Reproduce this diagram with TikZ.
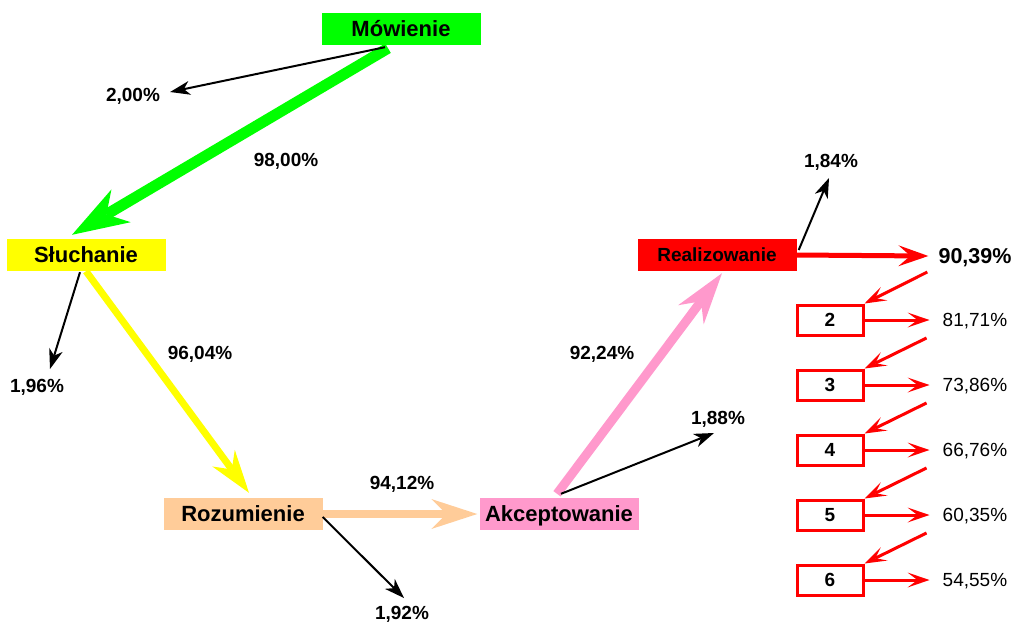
\documentclass[tikz,border=0pt]{standalone}
\usepackage{fontspec}
\setmainfont{Liberation Sans}
\usetikzlibrary{arrows.meta, positioning}
\definecolor{mowgreen}{RGB}{0, 255, 0}
\definecolor{sluyellow}{RGB}{255, 255, 0}
\definecolor{rozpeach}{RGB}{255, 204, 153}
\definecolor{akcpink}{RGB}{255, 153, 204}
\definecolor{realred}{RGB}{255, 0, 0}

\begin{document}
\begin{tikzpicture}[
    x=1pt, y=-1pt,
    box/.style={rectangle, minimum width=159pt, minimum height=32pt, inner sep=0pt, text height=15.8pt, text depth=0pt, font=\fontsize{22}{26}\selectfont\bfseries},
    stepbox/.style={rectangle, draw=realred, line width=3pt, minimum width=66pt, minimum height=30pt, inner sep=0pt, text height=13.6pt, text depth=0pt, font=\fontsize{19}{22}\selectfont\bfseries},
    pct/.style={inner sep=2pt, text height=13.6pt, text depth=0pt, font=\fontsize{19}{22}\selectfont\bfseries},
    rate/.style={inner sep=2pt, text height=13.6pt, text depth=0pt, font=\fontsize{19}{22}\selectfont},
    loss/.style={-{Stealth[length=20pt, width=14pt, inset=6pt, line width=0pt]}, line width=2pt},
    flow/.style={-{Stealth[length=46pt, width=30pt, inset=15pt, line width=0pt]}, line width=8pt},
    stepflow/.style={-{Stealth[length=22pt, width=15pt, inset=10pt, line width=0pt]}, line width=3pt, realred}
]
    \useasboundingbox (0,0) rectangle (1014,622);

    \node[box, fill=mowgreen]  (mow)  at (401,29)  {Mówienie};
    \node[box, fill=sluyellow] (slu)  at (86,255)  {Słuchanie};
    \node[box, fill=rozpeach]  (roz)  at (243,514) {Rozumienie};
    \node[box, fill=akcpink]   (akc)  at (559,514) {Akceptowanie};
    \node[box, fill=realred, text height=13.6pt, font=\fontsize{19}{22}\selectfont\bfseries] (real) at (717,255) {Realizowanie};

    \node[pct] (p200) at (133,95)  {2,00\%};
    \node[pct] (p980) at (286,160) {98,00\%};
    \node[pct] (p196) at (37,386)  {1,96\%};
    \node[pct] (p960) at (200,353) {96,04\%};
    \node[pct] (p192) at (402,613) {1,92\%};
    \node[pct] (p941) at (402,483) {94,12\%};
    \node[pct] (p922) at (602,353) {92,24\%};
    \node[pct] (p188) at (718,418) {1,88\%};
    \node[pct] (p184) at (831,161) {1,84\%};
    \node[pct, text height=15.4pt, font=\fontsize{21.5}{25}\selectfont\bfseries] (p904) at (975,256) {90,39\%};

    \node[stepbox] (b2) at (830,320) {2};
    \node[stepbox, below=32pt of b2] (b3) {3};
    \node[stepbox, below=32pt of b3] (b4) {4};
    \node[stepbox, below=32pt of b4] (b5) {5};
    \node[stepbox, below=32pt of b5] (b6) {6};

    \node[rate, right=76pt of b2] (q2) {81,71\%};
    \node[rate, right=76pt of b3] (q3) {73,86\%};
    \node[rate, right=76pt of b4] (q4) {66,76\%};
    \node[rate, right=76pt of b5] (q5) {60,35\%};
    \node[rate, right=76pt of b6] (q6) {54,55\%};

    \draw[flow, mowgreen, line width=11pt, -{Stealth[length=57pt, width=38pt, inset=17pt, line width=0pt]}] ([xshift=-13pt,yshift=-3pt]mow.south) -- ([xshift=-14pt,yshift=4pt]slu.north);
    \draw[flow, sluyellow, line width=7pt, -{Stealth[length=43pt, width=28pt, inset=14pt, line width=0pt]}] (slu.south) -- ([xshift=6pt,yshift=5pt]roz.north);
    \draw[flow, rozpeach] (roz.east) -- ([xshift=-2pt]akc.west);
    \draw[flow, akcpink, line width=9pt, -{Stealth[length=52pt, width=32pt, inset=17pt, line width=0pt]}] ([xshift=-2pt,yshift=4pt]akc.north) -- ([xshift=5pt,yshift=-2pt]real.south);
    \draw[flow, realred, line width=5pt, -{Stealth[length=30pt, width=21pt, inset=12pt, line width=0pt]}] (real.east) -- ([xshift=-8pt]p904.west);

    \draw[loss] ([xshift=-16pt,yshift=-2pt]mow.south) -- ([xshift=8pt,yshift=3pt]p200.east);
    \draw[loss] ([xshift=-6pt,yshift=-1pt]slu.south) -- ([xshift=13pt,yshift=8pt]p196.north);
    \draw[loss] ([yshift=-3pt]roz.east) -- ([xshift=2pt,yshift=6pt]p192.north);
    \draw[loss] ([xshift=2pt,yshift=4pt]akc.north) -- ([xshift=-4pt,yshift=-6pt]p188.south);
    \draw[loss] ([xshift=2pt,yshift=5pt]real.east) -- ([xshift=-2pt,yshift=-8pt]p184.south);

    \draw[stepflow] ([xshift=-9pt,yshift=-16pt]p904.west) -- (b2.north east);
    \draw[stepflow] (b2.east) -- ([xshift=-11pt]q2.west);
    \draw[stepflow] ([xshift=-14pt,yshift=-18pt]q2.west) -- (b3.north east);
    \draw[stepflow] (b3.east) -- ([xshift=-11pt]q3.west);
    \draw[stepflow] ([xshift=-14pt,yshift=-18pt]q3.west) -- (b4.north east);
    \draw[stepflow] (b4.east) -- ([xshift=-11pt]q4.west);
    \draw[stepflow] ([xshift=-14pt,yshift=-18pt]q4.west) -- (b5.north east);
    \draw[stepflow] (b5.east) -- ([xshift=-11pt]q5.west);
    \draw[stepflow] ([xshift=-14pt,yshift=-18pt]q5.west) -- (b6.north east);
    \draw[stepflow] (b6.east) -- ([xshift=-11pt]q6.west);
\end{tikzpicture}
\end{document}
